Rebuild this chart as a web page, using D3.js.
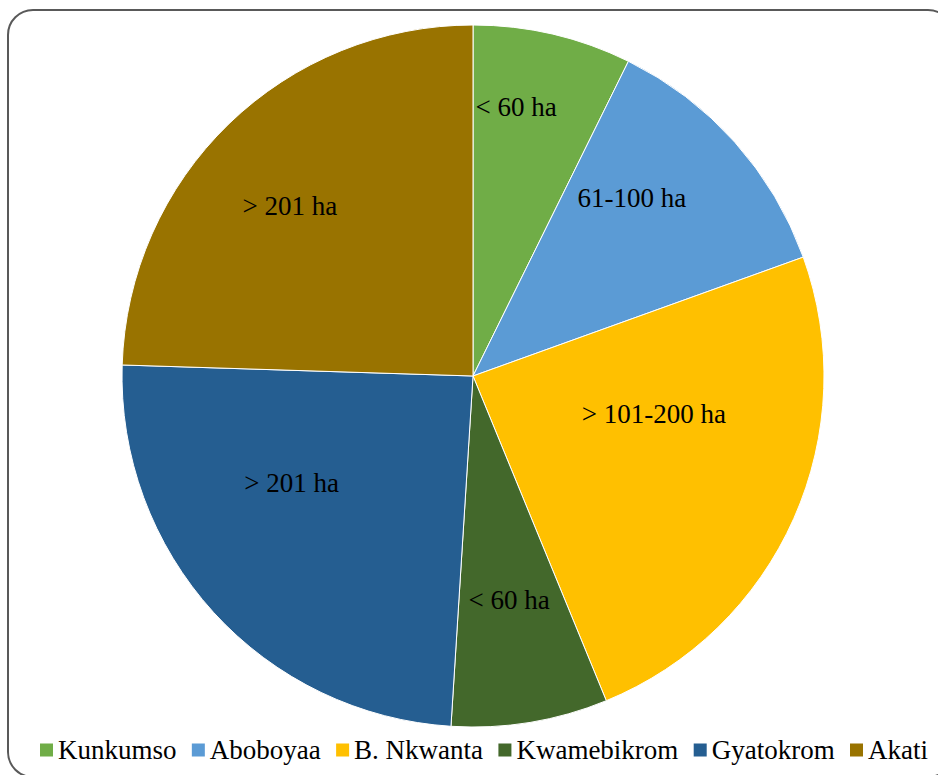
<!DOCTYPE html>
<html>
<head>
<meta charset="utf-8">
<script src="https://cdn.jsdelivr.net/npm/d3@7"></script>
<style>
  body { margin: 0; background: #fff; }
  svg { display: block; }
</style>
</head>
<body>
<div id="chart"></div>
<script>

// data (share of the pie, %)
var sites   = ["Kunkumso","Aboboyaa","B. Nkwanta","Kwamebikrom","Gyatokrom","Akati"];
var shares  = [7.3, 12.2, 24.3, 7.2, 24.5, 24.5];
var labels  = ["< 60 ha","61-100 ha","> 101-200 ha","< 60 ha","> 201 ha","> 201 ha"];
var colours = ["#70AD47","#5B9BD5","#FFC000","#43682B","#255E91","#997300"];

// where excel put each label: [angle shift from slice middle (deg), fraction of radius]
var labelPlace = [[-4, 0.775],[-6.5, 0.68],[-12, 0.527],[0.2, 0.647],[11.7, 0.60],[-3, 0.712]];

var width  = 938,
    height = 775;

var cx = 473, cy = 376, radius = 351;

var svg = d3.select("#chart")
  .append("svg")
    .attr("width",width)
    .attr("height",height)
    .attr("font-family","Liberation Serif")
    .attr("font-size",27);

// outer frame
svg.append("rect")
  .attr("x",8)
  .attr("y",10)
  .attr("width",945)
  .attr("height",767)
  .attr("rx",25)
  .attr("ry",25)
  .attr("fill","#fff")
  .attr("stroke","#595959")
  .attr("stroke-width",2);

var pie = d3.pie()
  .sort(null)
  .value(function(d){return d;});

var arcs = pie(shares);

var arc = d3.arc()
  .innerRadius(0)
  .outerRadius(radius);

var g = svg.append("g")
  .attr("transform","translate("+cx+","+cy+")");

g.selectAll("path")
  .data(arcs)
  .enter()
  .append("path")
  .attr("d",arc)
  .attr("fill",function(d,i){return colours[i];})
  .attr("stroke","#fff")
  .attr("stroke-width",1);

//.................. slice labels ..................
svg.selectAll("text.lbl")
  .data(arcs)
  .enter()
  .append("text")
  .attr("class","lbl")
  .attr("x",function(d,i){
    var a = (d.startAngle + d.endAngle)/2 + labelPlace[i][0]*Math.PI/180;
    return cx + Math.sin(a)*radius*labelPlace[i][1];
  })
  .attr("y",function(d,i){
    var a = (d.startAngle + d.endAngle)/2 + labelPlace[i][0]*Math.PI/180;
    return cy - Math.cos(a)*radius*labelPlace[i][1] + 9;
  })
  .attr("text-anchor","middle")
  .attr("font-family","Liberation Serif")
  .attr("font-size",27)
  .attr("fill","#000")
  .text(function(d,i){return labels[i];});
//-------------------------------------------------

//.................. legend ........................
var legendY = 750, box = 13, pad = 5;
var left = 40, right = 928;

var items = sites.map(function(s,i){
  var r = svg.append("rect")
    .attr("y",legendY - box/2)
    .attr("width",box)
    .attr("height",box)
    .attr("fill",colours[i]);
  var t = svg.append("text")
    .attr("y",legendY + 9)
    .attr("font-family","Liberation Serif")
    .attr("font-size",27)
    .attr("fill","#000")
    .text(s);
  return {r: r, t: t, w: box + pad + t.node().getComputedTextLength()};
});

var total = d3.sum(items,function(d){return d.w;});
var gap = (right - left - total)/(items.length - 1);
var x = left;
items.forEach(function(it){
  it.r.attr("x",x);
  it.t.attr("x",x + box + pad);
  x += it.w + gap;
});
//-------------------------------------------------

</script>
</body>
</html>
